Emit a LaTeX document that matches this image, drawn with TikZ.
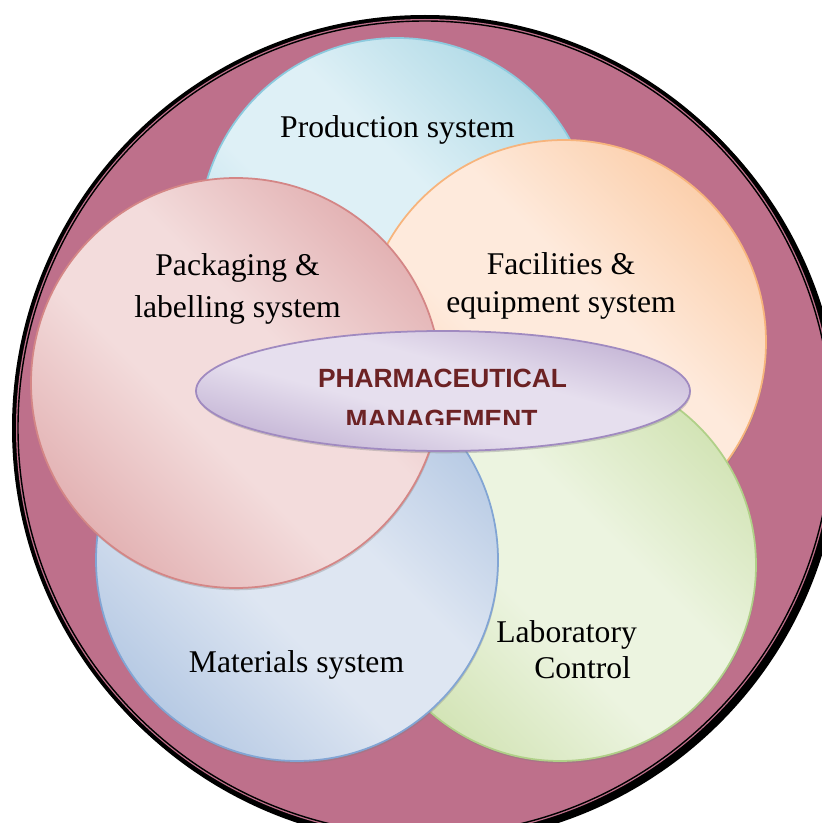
\documentclass[tikz,border=0pt]{standalone}
\usepackage{fontspec}
\setmainfont{Liberation Serif}
\newfontfamily\titleSans{Liberation Sans}
\usetikzlibrary{shapes.geometric,shadows}
\definecolor{ringColor}{RGB}{190,112,139}
\definecolor{titleColor}{RGB}{108,34,36}
\definecolor{prodDark}{RGB}{158,209,224}
\definecolor{prodLight}{RGB}{222,240,246}
\definecolor{prodLine}{RGB}{140,202,222}
\definecolor{facDark}{RGB}{250,196,152}
\definecolor{facLight}{RGB}{254,234,220}
\definecolor{facLine}{RGB}{247,180,124}
\definecolor{packDark}{RGB}{220,160,162}
\definecolor{packLight}{RGB}{243,220,220}
\definecolor{packLine}{RGB}{212,134,134}
\definecolor{matDark}{RGB}{166,190,222}
\definecolor{matLight}{RGB}{222,230,242}
\definecolor{matLine}{RGB}{130,165,212}
\definecolor{labDark}{RGB}{200,221,164}
\definecolor{labLight}{RGB}{236,244,224}
\definecolor{labLine}{RGB}{176,208,136}
\definecolor{ellDark}{RGB}{178,158,200}
\definecolor{ellLight}{RGB}{230,223,238}
\definecolor{ellLine}{RGB}{160,138,192}
\colorlet{vennDark}{gray}
\colorlet{vennLight}{white}
\pgfdeclarehorizontalshading[vennDark,vennLight]{vennShade}{100bp}{color(0bp)=(vennDark); color(17bp)=(vennDark); color(43bp)=(vennLight); color(57bp)=(vennLight); color(83bp)=(vennDark); color(100bp)=(vennDark)}
\tikzset{
  venn/.style={line width=1pt,
    drop shadow={shadow xshift=0.4pt, shadow yshift=-1.3pt, opacity=0.35}},
  tint/.style={draw=#1Line, /utils/exec={\colorlet{vennDark}{#1Dark}\colorlet{vennLight}{#1Light}},
    shading=vennShade, shading angle=45},
  vlabel/.style={inner sep=0pt, align=center, font=\fontsize{18}{20.5}\selectfont},
  title/.style={inner sep=0pt, text=titleColor,
    font=\titleSans\bfseries\fontsize{15}{18}\selectfont}
}
\begin{document}
\begin{tikzpicture}[x=0.02cm,y=0.02cm]
  \useasboundingbox (0,0) rectangle (822,823);
  \clip (0,0) rectangle (822,823);
  \coordinate (ring) at (425,395);
  \coordinate (prod) at (397,587);
  \coordinate (fac) at (564,481);
  \coordinate (lab) at (560,258);
  \coordinate (mat) at (297,263);
  \coordinate (pack) at (236,440);
  \coordinate (mid) at (443,432);

  % outer ring
  \fill[black] ([shift={(3,-3)}]ring) circle[radius=413];
  \fill[black] (ring) circle[radius=413];
  \fill[ringColor] (ring) circle[radius=409];
  \draw[black, line width=0.8pt] (ring) circle[radius=407];

  \path[venn, tint=prod] (prod) circle[radius=198];
  \path[venn, tint=fac] (fac) circle[radius=202];
  \path[venn, tint=lab] (lab) circle[radius=196];
  \path[venn, tint=mat] (mat) circle[radius=201];
  \path[venn, tint=pack] (pack) circle[radius=205];
  \path[venn, tint=ell, shading angle=75] (mid) ellipse[x radius=247, y radius=60];

  \node[vlabel, anchor=base] (prodT) at (397.5,685) {Production system};
  \node[vlabel] (packT) at (237.5,534.3) {Packaging \&\\[3.4pt]labelling system};
  \node[vlabel] (facT) at (561,537.4) {Facilities \&\\[1.1pt]equipment system};
  \node[vlabel, anchor=base] (matT) at (296.5,151) {Materials system};
  \node[vlabel, align=left, anchor=west] (labT) at (496,173.8) {Laboratory\\\hspace*{1.2em}Control};

  \node[title, anchor=base] (pharmaT) at (442.5,435.7) {PHARMACEUTICAL};
  \begin{scope}
    \clip (190,398.7) rectangle (700,470);
    \node[title, anchor=base] (mgmtT) at (441.5,394) {MANAGEMENT};
  \end{scope}
\end{tikzpicture}
\end{document}
